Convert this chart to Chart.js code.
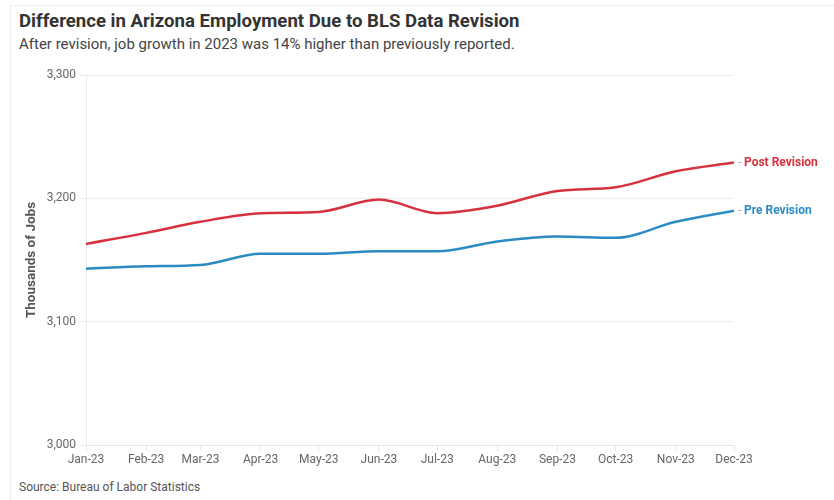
<!DOCTYPE html>
<html>
<head>
<meta charset="utf-8">
<script src="https://cdn.jsdelivr.net/npm/chart.js@4"></script>
<style>
  html, body { margin: 0; padding: 0; background: #fff; }
  body { width: 834px; height: 500px; position: relative; overflow: hidden; font-family: Roboto, "Noto Sans", sans-serif; }
  .frame { position: absolute; left: 10px; top: 5px; width: 840px; height: 510px; border: 1px solid #ececec; }
  h1 { position: absolute; left: 19px; top: 10px; margin: 0; font-size: 18.6px; font-weight: 700; color: #333; white-space: nowrap; }
  .sub { position: absolute; left: 19px; top: 35px; margin: 0; font-size: 15px; color: #444; white-space: nowrap; }
  .src { position: absolute; left: 19px; top: 480px; font-size: 12px; color: #555; white-space: nowrap; }
  .wrap { position: absolute; left: 0; top: 60px; width: 834px; height: 415px; }
</style>
</head>
<body>
<div class="frame"></div>
<h1>Difference in Arizona Employment Due to BLS Data Revision</h1>
<p class="sub">After revision, job growth in 2023 was 14% higher than previously reported.</p>
<div class="wrap"><canvas id="chart" width="834" height="415"></canvas></div>
<div class="src">Source: Bureau of Labor Statistics</div>
<script>
// Month labels and their day offsets from Jan 1 (the axis is spaced by date)
const months = ['Jan-23', 'Feb-23', 'Mar-23', 'Apr-23', 'May-23', 'Jun-23', 'Jul-23', 'Aug-23', 'Sep-23', 'Oct-23', 'Nov-23', 'Dec-23'];
const monthDays = [0, 31, 59, 90, 120, 151, 181, 212, 243, 273, 304, 334];

// Thousands of jobs
const postRevision = [3163, 3172, 3181, 3188, 3189, 3199, 3188, 3194, 3206, 3209, 3222, 3229];
const preRevision = [3143, 3145, 3146, 3155, 3155, 3157, 3157, 3165, 3169, 3168, 3181, 3190];

const yTicks = [3000, 3100, 3200, 3300];
const seriesNames = ['Post Revision', 'Pre Revision'];
const seriesColors = ['#d6313e', '#2b8bc3'];

function toPoints(values) {
    return values.map((v, i) => ({ x: monthDays[i], y: v }));
}

// Draws the series name right after the last point of each line
const endLabels = {
    id: 'endLabels',
    afterDatasetsDraw(chart) {
        const ctx = chart.ctx;
        ctx.save();
        ctx.textBaseline = 'middle';
        chart.data.datasets.forEach((ds, i) => {
            const meta = chart.getDatasetMeta(i);
            const pt = meta.data[meta.data.length - 1];
            ctx.font = '12px Roboto';
            ctx.fillStyle = '#aaa';
            ctx.fillText('-', pt.x + 4, pt.y);
            ctx.font = 'bold 12px Roboto';
            ctx.fillStyle = ds.borderColor;
            ctx.fillText(ds.label, pt.x + 10, pt.y);
        });
        ctx.restore();
    }
};

new Chart(document.getElementById('chart'), {
    type: 'line',
    data: {
        datasets: [
            {
                label: seriesNames[0],
                data: toPoints(postRevision),
                borderColor: seriesColors[0],
                borderWidth: 2.5,
                pointRadius: 0,
                cubicInterpolationMode: 'monotone'
            },
            {
                label: seriesNames[1],
                data: toPoints(preRevision),
                borderColor: seriesColors[1],
                borderWidth: 2.5,
                pointRadius: 0,
                cubicInterpolationMode: 'monotone'
            }
        ]
    },
    options: {
        responsive: false,
        animation: false,
        layout: { padding: { left: 0, right: 100, top: 15, bottom: 0 } },
        plugins: {
            legend: { display: false },
            tooltip: { enabled: false }
        },
        scales: {
            x: {
                type: 'linear',
                min: 0,
                max: 334,
                afterBuildTicks: (scale) => { scale.ticks = monthDays.map(v => ({ value: v })); },
                afterFit: (scale) => { scale.height = 30; },
                ticks: {
                    autoSkip: false,
                    maxRotation: 0,
                    padding: 2,
                    color: '#666',
                    font: { family: 'Roboto', size: 12 },
                    callback: (v) => months[monthDays.indexOf(v)]
                },
                grid: { drawOnChartArea: false, tickLength: 6, color: '#e6e6e6' },
                border: { color: '#e6e6e6' }
            },
            y: {
                min: 3000,
                max: 3300,
                afterBuildTicks: (scale) => { scale.ticks = yTicks.map(v => ({ value: v })); },
                afterFit: (scale) => { scale.width = 86; },
                ticks: {
                    padding: 4,
                    color: '#666',
                    font: { family: 'Roboto', size: 12 },
                    callback: (v) => v.toLocaleString('en-US')
                },
                grid: { color: '#ececec', tickLength: 6 },
                border: { color: '#ececec' },
                title: {
                    display: true,
                    text: 'Thousands of Jobs',
                    color: '#555',
                    font: { family: 'Roboto', size: 13.5, weight: 'bold' },
                    padding: { top: 24, bottom: 0 }
                }
            }
        }
    },
    plugins: [endLabels]
});
</script>
</body>
</html>
